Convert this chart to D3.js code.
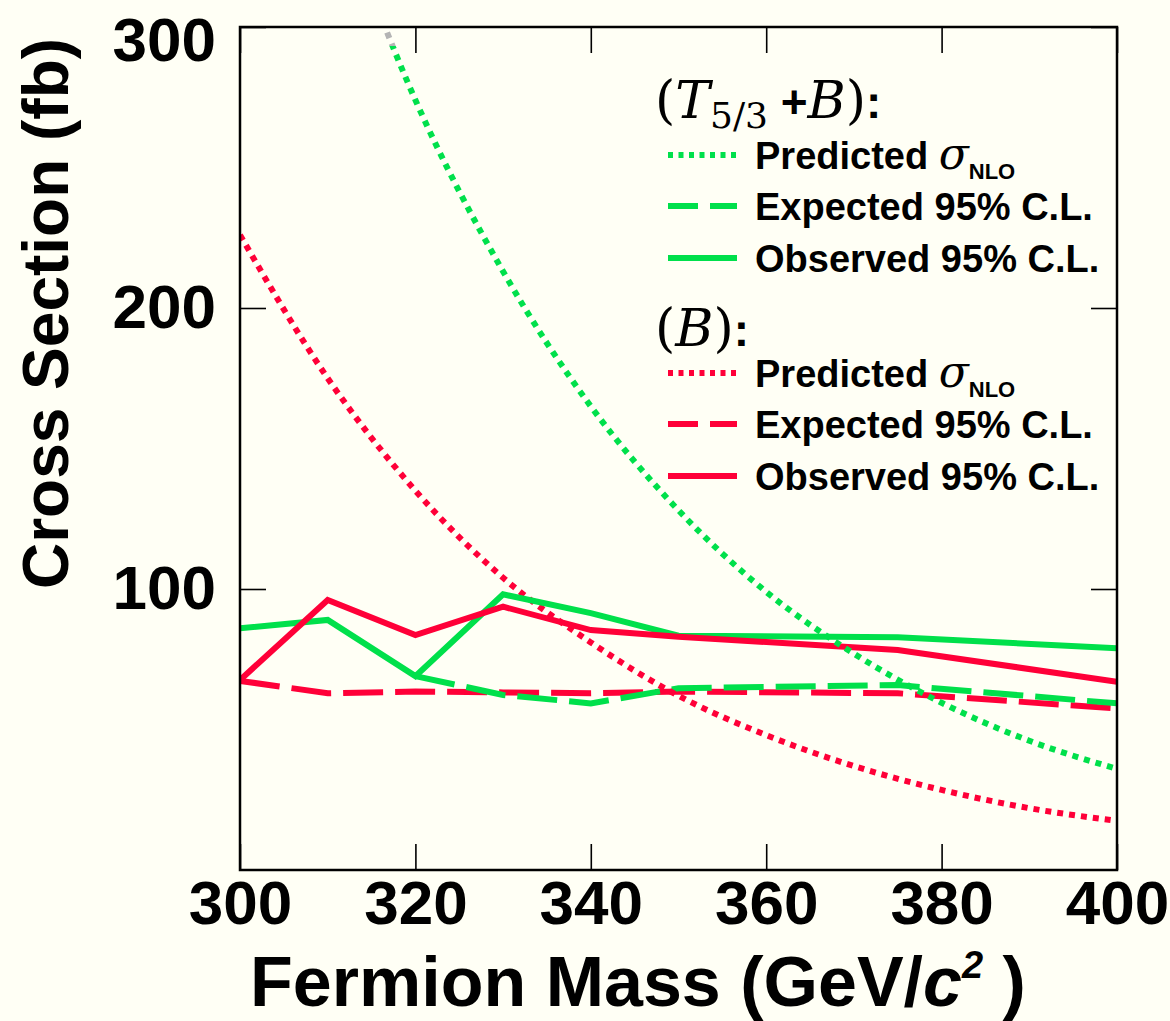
<!DOCTYPE html>
<html lang="en">
<head>
<meta charset="UTF-8">
<title>Cross Section vs Fermion Mass</title>
<script src="https://d3js.org/d3.v7.min.js"></script>
<style>
  body { margin: 0; background: #fffff5; }
  svg { display: block; }
  text { font-family: "Liberation Sans", Arial, Helvetica, sans-serif; font-weight: bold; }
</style>
</head>
<body>
<div id="chart"></div>
<script>
// masses where the limits were computed
const limitMass = [300, 310, 320, 330, 340, 350, 375, 400];
// (T5/3 + B)
const tbObserved = [86.0, 89.0, 69.0, 98.1, 91.4, 83.4, 82.8, 78.9];
const tbExpectedMass = [320, 330, 340, 350, 375, 400];
const tbExpected = [69.0, 62.3, 59.3, 64.7, 65.8, 59.3];
// (B)
const bObserved = [67.6, 96.1, 83.6, 93.7, 85.4, 83.0, 78.3, 67.0];
const bExpected = [67.3, 62.9, 63.5, 63.2, 62.9, 63.5, 62.9, 57.5];
// NLO predictions
const predMass = [300, 310, 320, 330, 340, 350, 360, 370, 380, 390, 400];
const tbPredicted = [null, 354, 274, 213, 165, 128, 99, 77, 59.5, 46, 36];
const bPredicted = [226, 175, 135, 104, 81, 62, 48, 37, 28.5, 22, 17.5];

const xTicks = [300, 320, 340, 360, 380, 400];
const yTicks = [100, 200, 300];

const GREEN = "#00e04b", RED = "#ff0038";
const W = 1170, H = 1021;
const L = 240, R = 1117, T = 27, B = 870;

const svg = d3.select("#chart").append("svg")
  .attr("width", W).attr("height", H);
svg.append("rect").attr("width", W).attr("height", H).attr("fill", "#fffff5");

const x = d3.scaleLinear().domain([300, 400]).range([L, R]);
const y = d3.scaleLinear().domain([0, 300]).range([B, T]);

const defs = svg.append("defs");
defs.append("clipPath").attr("id", "plot")
  .append("rect").attr("x", L).attr("y", T).attr("width", R - L).attr("height", B - T);
// the top of the green prediction is drawn grey in the original
defs.append("clipPath").attr("id", "plotLow")
  .append("rect").attr("x", L).attr("y", 46).attr("width", R - L).attr("height", B - 46);
defs.append("clipPath").attr("id", "plotTop")
  .append("rect").attr("x", L).attr("y", T).attr("width", R - L).attr("height", 46 - T);

const line = d3.line()
  .defined(d => d[1] != null)
  .x(d => x(d[0])).y(d => y(d[1]));
const smooth = d3.line()
  .defined(d => d[1] != null)
  .curve(d3.curveMonotoneX)
  .x(d => x(d[0])).y(d => y(d[1]));

const zip = (a, b) => a.map((v, i) => [v, b[i]]);

const series = [
  { pts: zip(limitMass, bExpected), gen: line, color: RED, dash: "40,12" },
  { pts: zip(tbExpectedMass, tbExpected), gen: line, color: GREEN, dash: "40,12" },
  { pts: zip(predMass, bPredicted), gen: smooth, color: RED, dash: "6,6" },
  { pts: zip(limitMass, tbObserved), gen: line, color: GREEN, dash: null },
  { pts: zip(limitMass, bObserved), gen: line, color: RED, dash: null }
];

const g = svg.append("g");
series.forEach(s => {
  g.append("path")
    .attr("clip-path", "url(#plot)")
    .attr("d", s.gen(s.pts))
    .attr("fill", "none")
    .attr("stroke", s.color)
    .attr("stroke-width", 6)
    .attr("stroke-dasharray", s.dash);
});

// green NLO prediction (grey where it leaves the frame)
const tbPred = zip(predMass, tbPredicted);
g.append("path").attr("clip-path", "url(#plotLow)")
  .attr("d", smooth(tbPred)).attr("fill", "none")
  .attr("stroke", GREEN).attr("stroke-width", 6).attr("stroke-dasharray", "6,6");
g.append("path").attr("clip-path", "url(#plotTop)")
  .attr("d", smooth(tbPred)).attr("fill", "none")
  .attr("stroke", "#b4b4b4").attr("stroke-width", 6).attr("stroke-dasharray", "6,6");

// axes, ticks inside on all four sides
const tickLen = 26;
const ax = svg.append("g");
ax.append("g").attr("transform", `translate(0,${B})`)
  .call(d3.axisBottom(x).tickValues(xTicks).tickSize(-tickLen).tickPadding(10).tickFormat(d3.format("d")));
ax.append("g").attr("transform", `translate(0,${T})`)
  .call(d3.axisTop(x).tickValues(xTicks).tickSize(-tickLen).tickFormat(""));
const yAx = ax.append("g").attr("transform", `translate(${L},0)`)
  .call(d3.axisLeft(y).tickValues(yTicks).tickSize(-tickLen).tickPadding(24).tickFormat(d3.format("d")));
ax.append("g").attr("transform", `translate(${R},0)`)
  .call(d3.axisRight(y).tickValues(yTicks).tickSize(-tickLen).tickFormat(""));
ax.selectAll(".domain").remove();
ax.selectAll(".tick line").attr("stroke", "#000").attr("stroke-width", 1.6);
ax.selectAll(".tick text")
  .attr("fill", "#000")
  .style("font-size", "62px")
  .style("font-family", "'Liberation Sans', Arial, sans-serif")
  .style("font-weight", "bold");
// keep the top label inside the page
yAx.selectAll(".tick text").filter(d => d === 300).attr("dy", 0).attr("y", 33);

svg.append("rect")
  .attr("x", L).attr("y", T).attr("width", R - L).attr("height", B - T)
  .attr("fill", "none").attr("stroke", "#000").attr("stroke-width", 2.5);

// axis titles
svg.append("text")
  .attr("transform", `translate(68,${(T + B) / 2 - 135}) rotate(-90)`)
  .attr("text-anchor", "middle")
  .style("font-size", "64px")
  .text("Cross Section (fb)");

const xt = svg.append("text")
  .attr("x", 638).attr("y", 1006)
  .attr("text-anchor", "middle")
  .style("font-size", "70px");
xt.append("tspan").text("Fermion Mass (GeV/");
xt.append("tspan").style("font-style", "italic").text("c");
xt.append("tspan").attr("dy", -28).style("font-size", "38px").style("font-style", "italic").text("2");
xt.append("tspan").attr("dy", 28).text(" )");

// legend
const serif = "'DejaVu Serif', 'Liberation Serif', serif";
function header(tx, ty, withT) {
  const t = svg.append("text").attr("x", tx).attr("y", ty).style("font-size", "52px");
  t.append("tspan").style("font-family", serif).style("font-weight", "normal").text("(");
  if (withT) {
    t.append("tspan").style("font-family", serif).style("font-weight", "normal")
      .style("font-style", "italic").text("T");
    t.append("tspan").attr("dy", 10).style("font-family", serif).style("font-weight", "normal")
      .style("font-size", "36px").text("5/3");
    t.append("tspan").attr("dy", -10).style("font-size", "46px").text(" +");
  }
  t.append("tspan").style("font-family", serif).style("font-weight", "normal")
    .style("font-style", "italic").text("B");
  t.append("tspan").style("font-family", serif).style("font-weight", "normal").text(")");
  t.append("tspan").style("font-size", "46px").text(":");
}

const legendLabels = ["Predicted ", "Expected 95% C.L.", "Observed 95% C.L."];
const legendDash = ["5,5.5", "30,12", null];
function block(color, rows) {
  rows.forEach((ry, i) => {
    svg.append("line")
      .attr("x1", 668).attr("x2", 737).attr("y1", ry).attr("y2", ry)
      .attr("stroke", color).attr("stroke-width", 6)
      .attr("stroke-dasharray", legendDash[i]);
    const t = svg.append("text").attr("x", 755).attr("y", ry + 14).style("font-size", "38px");
    t.append("tspan").text(legendLabels[i]);
    if (i === 0) {
      t.append("tspan").style("font-family", serif).style("font-style", "italic")
        .style("font-weight", "normal").style("font-size", "44px").text("σ");
      t.append("tspan").attr("dy", 10).style("font-size", "22px").text("NLO");
    }
  });
}

header(655, 118, true);
block(GREEN, [155, 206, 258]);
header(655, 346, false);
block(RED, [373, 424, 476]);
</script>
</body>
</html>
